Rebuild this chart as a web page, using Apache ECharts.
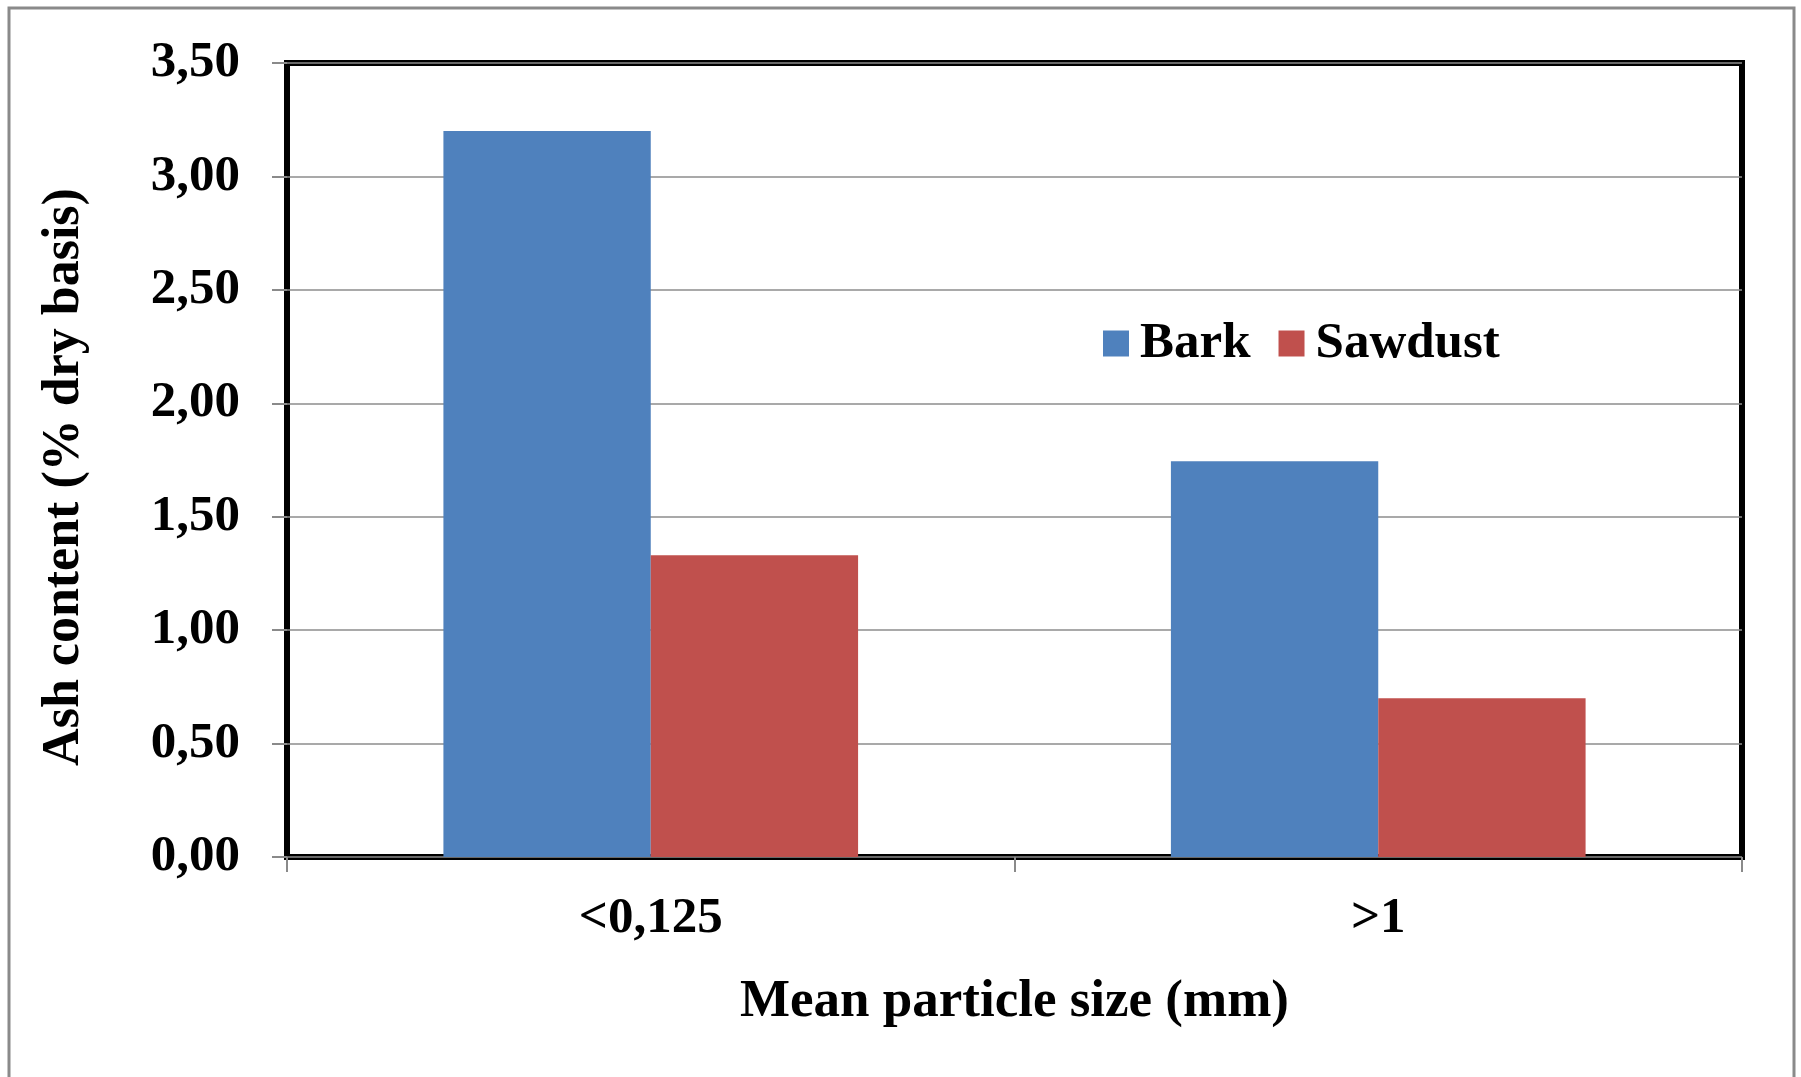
<!DOCTYPE html>
<html>
<head>
<meta charset="utf-8">
<script src="https://cdn.jsdelivr.net/npm/echarts@6/dist/echarts.min.js"></script>
<style>
  html, body { margin: 0; padding: 0; background: #fff; }
  #chart { width: 1801px; height: 1077px; }
</style>
</head>
<body>
<div id="chart"></div>
<script>
// Mean particle size classes (mm)
const categories = ['<0,125', '>1'];
// Ash content, % dry basis
const barkValues = [3.20, 1.745];
const sawdustValues = [1.33, 0.70];
const seriesNames = ['Bark', 'Sawdust'];

const FONT = '"Liberation Serif", "DejaVu Serif", serif';
const fmt = v => v.toFixed(2).replace('.', ',');

const chart = echarts.init(document.getElementById('chart'), null, { renderer: 'canvas' });

chart.setOption({
  backgroundColor: '#ffffff',
  animation: false,
  graphic: [{
    type: 'rect',
    shape: { x: 9, y: 8, width: 1785, height: 1120 },
    style: { fill: 'none', stroke: '#8a8a8a', lineWidth: 3 },
    z: -1
  }],
  grid: {
    left: 287, right: 59, top: 63, bottom: 220,
    show: true, borderColor: '#000', borderWidth: 6,
    containLabel: false
  },
  legend: {
    data: seriesNames,
    left: 1098, top: 313,
    itemWidth: 26, itemHeight: 26, itemGap: 28,
    icon: 'rect',
    textStyle: {
      fontFamily: FONT, fontWeight: 'bold', fontSize: 51, color: '#000',
      lineHeight: 50, padding: [0, 0, 0, 6]
    }
  },
  xAxis: {
    type: 'category',
    data: categories,
    boundaryGap: true,
    axisLine: { show: false },
    axisTick: { show: true, length: 15, lineStyle: { color: '#8a8a8a', width: 2 } },
    axisLabel: {
      fontFamily: FONT, fontWeight: 'bold', fontSize: 51, color: '#000',
      margin: 37, lineHeight: 50
    },
    name: 'Mean particle size (mm)',
    nameLocation: 'middle',
    nameGap: 119,
    nameTextStyle: { fontFamily: FONT, fontWeight: 'bold', fontSize: 53, color: '#000', lineHeight: 52 }
  },
  yAxis: {
    type: 'value',
    min: 0, max: 3.5, interval: 0.5,
    axisLine: { show: false },
    axisTick: { show: true, length: 15, lineStyle: { color: '#8a8a8a', width: 2 } },
    axisLabel: {
      fontFamily: FONT, fontWeight: 'bold', fontSize: 51, color: '#000',
      margin: 47, formatter: fmt
    },
    splitLine: { show: true, lineStyle: { color: '#8c8c8c', width: 1.5 } },
    name: 'Ash content (% dry basis)',
    nameLocation: 'middle',
    nameGap: 196,
    nameTextStyle: {
      fontFamily: FONT, fontWeight: 'bold', fontSize: 52, color: '#000',
      lineHeight: 52, padding: [0, 34, 0, 0]
    }
  },
  series: [
    {
      name: seriesNames[0], type: 'bar', data: barkValues,
      barGap: '0%', barCategoryGap: '43%',
      itemStyle: { color: '#4F81BD' }
    },
    {
      name: seriesNames[1], type: 'bar', data: sawdustValues,
      itemStyle: { color: '#C0504D' }
    }
  ]
});
</script>
</body>
</html>
